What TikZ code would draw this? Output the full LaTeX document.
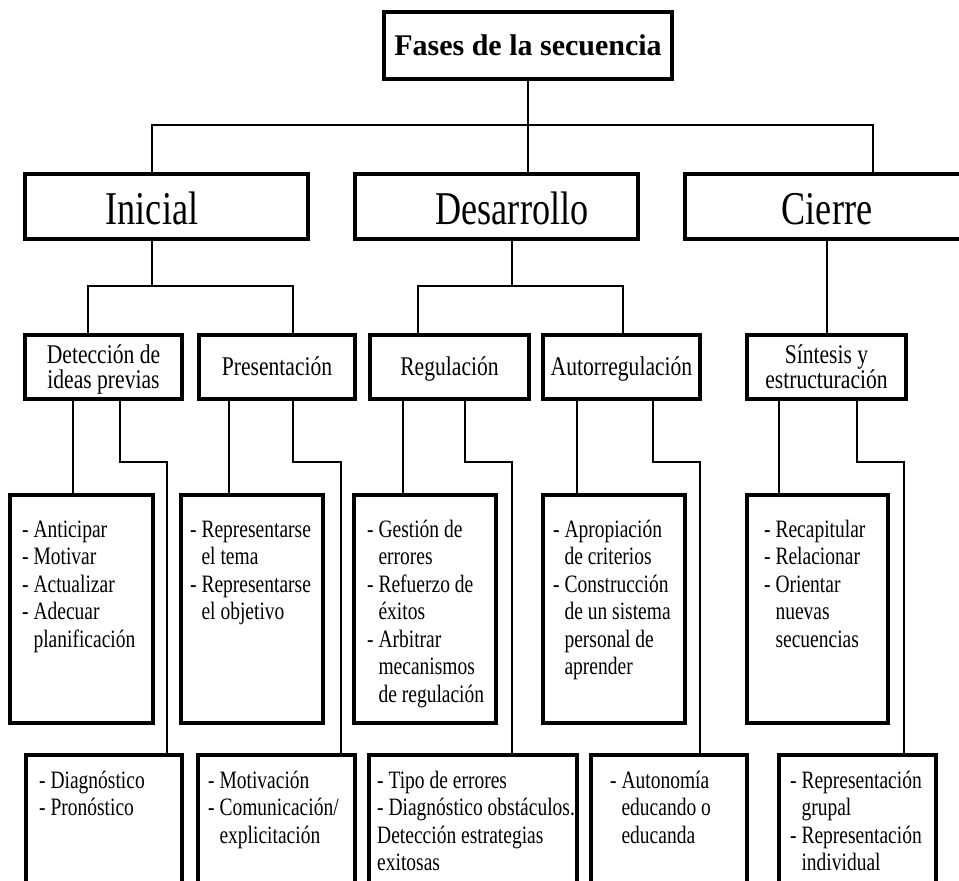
\documentclass[tikz,border=0pt]{standalone}
\usepackage{fontspec}
\setmainfont{Liberation Serif}
\newfontfamily\fLtwo[FakeStretch=0.77]{Liberation Serif}
\newfontfamily\fLthree[FakeStretch=0.80]{Liberation Serif}
\newfontfamily\fItem[FakeStretch=0.78]{Liberation Serif}
\newcommand\itemlist[1]{\begin{tabular}[t]{@{}l@{}}#1\end{tabular}}
\newcommand\twolines[1]{\begin{tabular}[t]{@{}c@{}}#1\end{tabular}}
\newcommand\ind{\phantom{-}\ }
\begin{document}
\begin{tikzpicture}[x=1pt,y=-1pt,
  bx/.style={draw, line width=3.3pt, inner sep=0pt, outer sep=0pt},
  ln/.style={line width=1.8pt},
  ttwo/.style={anchor=base, inner sep=0pt, font={\fLtwo\fontsize{47}{50}\selectfont}},
  tthree/.style={anchor=base, inner sep=0pt, font={\fLthree\fontsize{27}{24}\selectfont}},
  titem/.style={anchor=base west, inner sep=0pt, font={\fItem\fontsize{25}{27.5}\selectfont}}]
\useasboundingbox (0,0) rectangle (959,881);
\clip (0,0) rectangle (959,881);
\fill[white] (0,0) rectangle (959,881);

% level 1
\node[bx, line width=4.5pt, minimum width=288pt, minimum height=67pt,
      font={\bfseries\fontsize{30}{32}\selectfont}] (top) at (528,45.5) {Fases de la secuencia};

% level 2
\node[bx, line width=3.5pt, minimum width=283pt, minimum height=65pt] (ini) at (166.5,206.5) {};
\node[bx, line width=3.5pt, minimum width=283pt, minimum height=65pt] (des) at (496.5,206.5) {};
\node[bx, line width=3.5pt, minimum width=290pt, minimum height=65pt] (cie) at (830,206.5) {};
\node[ttwo] (iniT) at (152,224) {Inicial};
\node[ttwo] (desT) at (512,224) {Desarrollo};
\node[ttwo] (cieT) at (827,224) {Cierre};

% level 3
\node[bx, minimum width=157pt, minimum height=64pt] (det) at (103.5,367) {};
\node[bx, minimum width=156pt, minimum height=64pt] (pre) at (277,367) {};
\node[bx, minimum width=159pt, minimum height=64pt] (reg) at (449.5,367) {};
\node[bx, minimum width=157pt, minimum height=64pt] (aut) at (621.5,367) {};
\node[bx, minimum width=159pt, minimum height=64pt] (sin) at (826.5,367) {};
\node[tthree] (detT) at (103.5,363) {\twolines{Detección de\\ideas previas}};
\node[tthree] (preT) at (277,375) {Presentación};
\node[tthree] (regT) at (449.5,375) {Regulación};
\node[tthree] (autT) at (621.5,375) {Autorregulación};
\node[tthree] (sinT) at (826.5,363) {\twolines{Síntesis y\\estructuración}};

% level 4
\node[bx, minimum width=143pt, minimum height=228pt] (l4a) at (81.5,609) {};
\node[bx, minimum width=142pt, minimum height=228pt] (l4b) at (252,609) {};
\node[bx, minimum width=142pt, minimum height=228pt] (l4c) at (425,609) {};
\node[bx, minimum width=142pt, minimum height=228pt] (l4d) at (614,609) {};
\node[bx, minimum width=141pt, minimum height=228pt] (l4e) at (817.5,609) {};
\node[titem] (t4a) at (22,537) {\itemlist{- Anticipar\\- Motivar\\- Actualizar\\- Adecuar\\\ind planificación}};
\node[titem] (t4b) at (190,537) {\itemlist{- Representarse\\\ind el tema\\- Representarse\\\ind el objetivo}};
\node[titem] (t4c) at (367,537) {\itemlist{- Gestión de\\\ind errores\\- Refuerzo de\\\ind éxitos\\- Arbitrar\\\ind mecanismos\\\ind de regulación}};
\node[titem] (t4d) at (553,537) {\itemlist{- Apropiación\\\ind de criterios\\- Construcción\\\ind de un sistema\\\ind personal de\\\ind aprender}};
\node[titem] (t4e) at (764,537) {\itemlist{- Recapitular\\- Relacionar\\- Orientar\\\ind nuevas\\\ind secuencias}};

% level 5
\node[bx, minimum width=156pt, minimum height=155pt] (l5a) at (104,832.5) {};
\node[bx, minimum width=157pt, minimum height=155pt] (l5b) at (276.5,832.5) {};
\node[bx, minimum width=208pt, minimum height=155pt] (l5c) at (473,832.5) {};
\node[bx, minimum width=156pt, minimum height=155pt] (l5d) at (669,832.5) {};
\node[bx, minimum width=157pt, minimum height=155pt] (l5e) at (857.5,832.5) {};
\node[titem] (t5a) at (39,788) {\itemlist{- Diagnóstico\\- Pronóstico}};
\node[titem] (t5b) at (208,788) {\itemlist{- Motivación\\- Comunicación/\\\ind explicitación}};
\node[titem] (t5c) at (377,788) {\itemlist{- Tipo de errores\\- Diagnóstico obstáculos.\\Detección estrategias\\exitosas}};
\node[titem] (t5d) at (610,788) {\itemlist{- Autonomía\\\ind educando o\\\ind educanda}};
\node[titem] (t5e) at (790,788) {\itemlist{- Representación\\\ind grupal\\- Representación\\\ind individual}};

% connectors level 1 -> 2
\coordinate (bl) at (152,125);
\coordinate (br) at (873,125);
\draw[ln] (top.south) -- (top.south |- des.north);
\draw[ln] (bl |- ini.north) -- (bl) -- (br) -- (br |- cie.north);

% connectors level 2 -> 3
\coordinate (ba) at (88,286);
\coordinate (bb) at (293,286);
\coordinate (bc) at (418,286);
\coordinate (bd) at (623,286);
\draw[ln] (iniT |- ini.south) -- (iniT |- ba);
\draw[ln] (ba |- det.north) -- (ba) -- (bb) -- (bb |- pre.north);
\draw[ln] (desT |- des.south) -- (desT |- bc);
\draw[ln] (bc |- reg.north) -- (bc) -- (bd) -- (bd |- aut.north);
\draw[ln] (cieT |- cie.south) -- (cieT |- sin.north);

% connectors level 3 -> 4
\coordinate (va) at (73,440);
\coordinate (vb) at (229,440);
\coordinate (vc) at (403,440);
\coordinate (vd) at (577,440);
\coordinate (ve) at (779,440);
\draw[ln] (va |- det.south) -- (va |- l4a.north);
\draw[ln] (vb |- pre.south) -- (vb |- l4b.north);
\draw[ln] (vc |- reg.south) -- (vc |- l4c.north);
\draw[ln] (vd |- aut.south) -- (vd |- l4d.north);
\draw[ln] (ve |- sin.south) -- (ve |- l4e.north);

% connectors level 3 -> 5
\coordinate (ka) at (120,462); \coordinate (ja) at (167,462);
\coordinate (kb) at (293,462); \coordinate (jb) at (341,462);
\coordinate (kc) at (465,462); \coordinate (jc) at (512,462);
\coordinate (kd) at (653,462); \coordinate (jd) at (700,462);
\coordinate (ke) at (857,462); \coordinate (je) at (904,462);
\draw[ln] (ka |- det.south) -- (ka) -- (ja) -- (ja |- l5a.north);
\draw[ln] (kb |- pre.south) -- (kb) -- (jb) -- (jb |- l5b.north);
\draw[ln] (kc |- reg.south) -- (kc) -- (jc) -- (jc |- l5c.north);
\draw[ln] (kd |- aut.south) -- (kd) -- (jd) -- (jd |- l5d.north);
\draw[ln] (ke |- sin.south) -- (ke) -- (je) -- (je |- l5e.north);
\end{tikzpicture}
\end{document}
